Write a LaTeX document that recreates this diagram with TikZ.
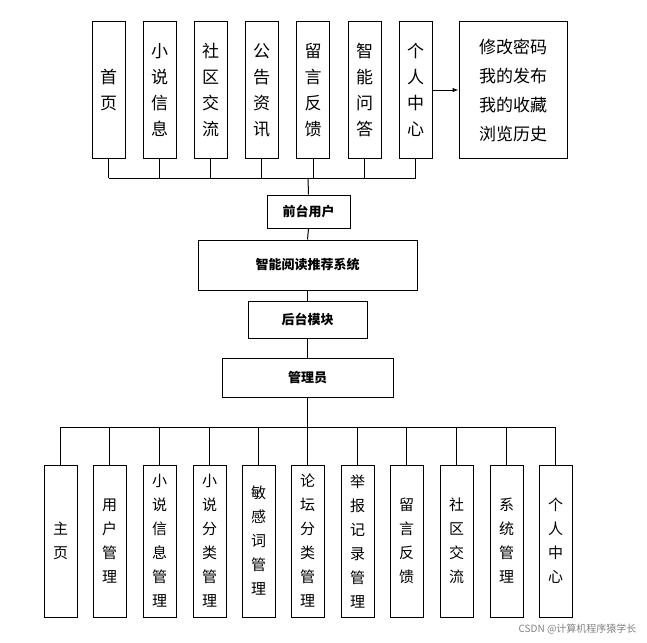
\documentclass[tikz,border=0pt]{standalone}
\usepackage{fontspec}
\usetikzlibrary{arrows.meta}
\setmainfont{Noto Sans CJK SC}
\newfontfamily\cjk{Noto Sans CJK SC}
\begin{document}
\begin{tikzpicture}[x=1pt,y=-1pt,
  box/.style={draw,line width=1pt,inner sep=0pt,align=center},
  tbox/.style={box,minimum width=33pt,minimum height=136pt,font=\fontsize{17}{26}\selectfont},
  bbox/.style={box,minimum width=33pt,minimum height=152pt,font=\fontsize{15}{24}\selectfont},
  mbox/.style={box,font=\fontsize{13}{16}\selectfont\bfseries},
  ln/.style={line width=1pt}]
\useasboundingbox (0,0) rectangle (647,642);
% top
\foreach \n/\x/\t in {t1/108.5/首\\页, t2/159.5/小\\说\\信\\息, t3/210.5/社\\区\\交\\流, t4/261.5/公\\告\\资\\讯, t5/313/留\\言\\反\\馈, t6/364.5/智\\能\\问\\答, t7/415.5/个\\人\\中\\心}
  \node[tbox] (\n) at (\x,90) {\t};
\node[box,minimum width=108pt,minimum height=136pt,font=\fontsize{17}{29}\selectfont] (t8) at (513,90) {修改密码\\我的发布\\我的收藏\\浏览历史};
\draw[ln,-{Latex[length=6pt]}] (t7.east) -- (t8.west);
\coordinate (tb) at (308,178);
\foreach \n in {t1,t2,t3,t4,t5,t6,t7} \draw[ln] (\n.south) -- (\n.south |- tb);
\draw[ln] (t1.south |- tb) -- (t7.south |- tb);
\node[mbox,minimum width=83pt,minimum height=33pt] (fu) at (308.5,211.5) {前台用户};
\node[mbox,minimum width=219pt,minimum height=50pt] (sys) at (307.5,265) {智能阅读推荐系统};
\node[mbox,minimum width=119pt,minimum height=37pt] (hm) at (307.5,319.5) {后台模块};
\node[mbox,minimum width=171pt,minimum height=39pt] (adm) at (307.5,377.5) {管理员};
\draw[ln] (tb) -- (fu.north);
\draw[ln] (fu.south) -- (sys.north);
\draw[ln] (sys.south) -- (hm.north);
\draw[ln] (hm.south) -- (adm.north);
% bottom
\foreach \n/\x/\t in {b1/60.5/主\\页, b2/109.5/用\\户\\管\\理, b3/159.5/小\\说\\信\\息\\管\\理, b4/209.5/小\\说\\分\\类\\管\\理, b5/258.5/敏\\感\\词\\管\\理, b6/307.5/论\\坛\\分\\类\\管\\理, b7/357.5/举\\报\\记\\录\\管\\理, b8/406.5/留\\言\\反\\馈, b9/456.5/社\\区\\交\\流, b10/506.5/系\\统\\管\\理, b11/555.5/个\\人\\中\\心}
  \node[bbox] (\n) at (\x,541) {\t};
\coordinate (bb) at (307.5,427);
\draw[ln] (adm.south) -- (bb);
\draw[ln] (b1.north |- bb) -- (b11.north |- bb);
\foreach \n in {b1,b2,b3,b4,b5,b6,b7,b8,b9,b10,b11} \draw[ln] (\n.north |- bb) -- (\n.north);
\node[anchor=south east,font=\fontsize{10}{12}\selectfont,text=gray] (wm) at (640,638) {CSDN @计算机程序猿学长};
\end{tikzpicture}
\end{document}
